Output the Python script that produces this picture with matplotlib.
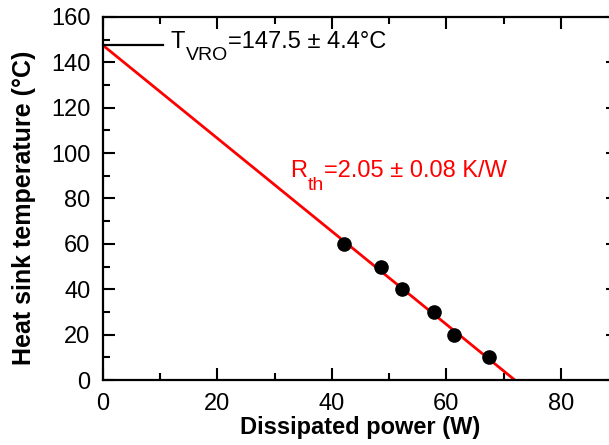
import numpy as np
import matplotlib.pyplot as plt
from matplotlib.ticker import MultipleLocator

plt.rcParams['font.family'] = ['Liberation Sans', 'DejaVu Sans']

# measured points
power = [42.1, 48.6, 52.2, 57.8, 61.4, 67.4]
temp = [60, 50, 40, 30, 20, 10]

# linear fit
t_vro = 147.5
r_th = 2.05
fit_x = [0, t_vro / r_th]
fit_y = [t_vro - r_th * x for x in fit_x]


def sub_label(ax, x, y, main, sub, rest, color, size=17, sub_size=14, drop=8.6):
    """Text with a big subscript, built from three pieces."""
    t1 = ax.text(x, y, main, fontsize=size, color=color, va='baseline', ha='left')
    t2 = ax.annotate(sub, xy=(1, 0), xycoords=t1, xytext=(0.5, -drop),
                     textcoords='offset points', fontsize=sub_size, color=color,
                     va='bottom', ha='left')
    ax.annotate(rest, xy=(1, 0), xycoords=t2, xytext=(0, drop),
                textcoords='offset points', fontsize=size, color=color,
                va='bottom', ha='left')


fig = plt.figure(figsize=(6.09, 4.45), dpi=100)
ax = fig.add_axes([0.169, 0.146, 0.846, 0.816])

ax.plot(fit_x, fit_y, color='red', lw=2, zorder=2)
ax.plot(power, temp, 'o', color='black', ms=9.5, zorder=3)
ax.plot([0, 10.5], [t_vro, t_vro], color='black', lw=1.6, clip_on=False)

sub_label(ax, 11.8, 146.5, 'T', 'VRO', '=147.5 ± 4.4°C', 'black')
sub_label(ax, 32.7, 89.5, 'R', 'th', '=2.05 ± 0.08 K/W', 'red')

ax.set_xlim(0, 90)
ax.set_ylim(0, 160)
ax.xaxis.set_major_locator(MultipleLocator(20))
ax.xaxis.set_minor_locator(MultipleLocator(10))
ax.yaxis.set_major_locator(MultipleLocator(20))
ax.yaxis.set_minor_locator(MultipleLocator(10))
ax.tick_params(which='both', direction='in', top=True, right=True, labelsize=17, width=1.5)
ax.tick_params(which='major', length=8.5, pad=9)
ax.tick_params(which='minor', length=5)
for s in ax.spines.values():
    s.set_linewidth(1.6)

ax.set_xlabel('Dissipated power (W)', fontsize=17, fontweight='bold', labelpad=1)
ax.set_ylabel('Heat sink temperature (°C)', fontsize=18, fontweight='bold')
ax.yaxis.set_label_coords(-0.13, 0.474)

fig.savefig('out.png', dpi=100)
